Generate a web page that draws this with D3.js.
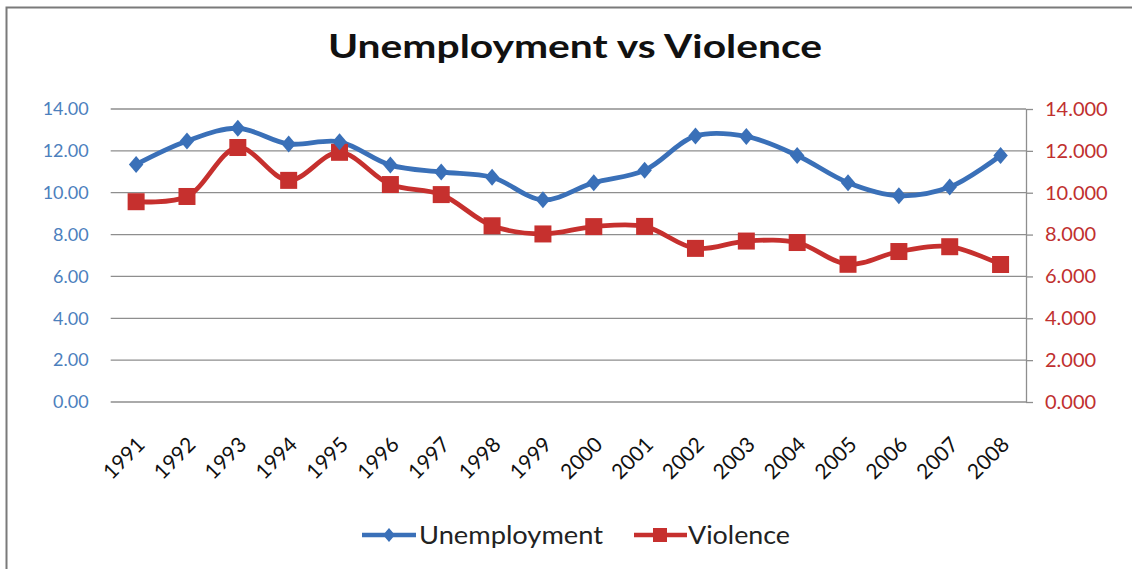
<!DOCTYPE html>
<html>
<head>
<meta charset="utf-8">
<script src="https://cdn.jsdelivr.net/npm/d3@7"></script>
<style>
  html, body { margin: 0; padding: 0; background: #fff; overflow: hidden; }
  svg { display: block; }
</style>
</head>
<body>
<svg id="chart" width="1132" height="569"></svg>
<script>
// Annual series, 1991–2008
const years = ["1991","1992","1993","1994","1995","1996","1997","1998","1999",
               "2000","2001","2002","2003","2004","2005","2006","2007","2008"];
const unemployment = [11.35, 12.47, 13.08, 12.33, 12.43, 11.32, 10.99, 10.74, 9.66,
                      10.48, 11.07, 12.71, 12.69, 11.78, 10.48, 9.86, 10.27, 11.78];
const violence = [9.57, 9.82, 12.16, 10.59, 11.93, 10.39, 9.91, 8.42, 8.03,
                  8.38, 8.39, 7.34, 7.69, 7.62, 6.58, 7.19, 7.42, 6.57];
const leftTicks = [0, 2, 4, 6, 8, 10, 12, 14];
const rightTicks = [0, 2, 4, 6, 8, 10, 12, 14];
const seriesNames = ["Unemployment", "Violence"];

const BLUE = "#3a70b8", RED = "#c6302e";
const LEFT_LABEL = "#4c80bd", RIGHT_LABEL = "#c0302f";
const GRID = "#8e8e8e";
const FONT = "Lato, 'Open Sans', sans-serif";

const svg = d3.select("#chart");
const plot = { left: 110.7, right: 1026, top: 109, bottom: 402 };

// outer chart frame (top and left edges fall inside the view)
svg.append("path")
  .attr("d", "M6.5,569V7.5H1132")
  .attr("fill", "none").attr("stroke", "#7a7a7a").attr("stroke-width", 2);

// title
svg.append("text")
  .attr("x", 328).attr("y", 58)
  .attr("textLength", 494).attr("lengthAdjust", "spacingAndGlyphs")
  .attr("font-family", FONT).attr("font-weight", 700).attr("font-size", 33)
  .attr("fill", "#111")
  .text("Unemployment vs Violence");

const x = d3.scaleBand().domain(years).range([plot.left, plot.right]);
const cx = d => x(d) + x.bandwidth() / 2;
const yL = d3.scaleLinear().domain([0, 14]).range([plot.bottom, plot.top]);
const yR = d3.scaleLinear().domain([0, 14]).range([plot.bottom, plot.top]);

// horizontal gridlines
svg.append("g").selectAll("line").data(leftTicks).join("line")
  .attr("x1", plot.left).attr("x2", plot.right)
  .attr("y1", d => yL(d)).attr("y2", d => yL(d))
  .attr("stroke", GRID).attr("stroke-width", 1.3);

// left axis (labels only)
const gL = svg.append("g")
  .attr("transform", `translate(${plot.left},0)`)
  .call(d3.axisLeft(yL).tickValues(leftTicks).tickFormat(d3.format(".2f"))
    .tickSize(0).tickPadding(22));
gL.select(".domain").remove();
gL.selectAll("text")
  .attr("font-family", FONT).attr("font-size", 18).attr("fill", LEFT_LABEL);

// right axis with outward ticks
const gR = svg.append("g")
  .attr("transform", `translate(${plot.right},0)`)
  .call(d3.axisRight(yR).tickValues(rightTicks).tickFormat(d3.format(".3f"))
    .tickSize(7).tickSizeOuter(0).tickPadding(12));
gR.select(".domain").attr("stroke", GRID).attr("stroke-width", 1.3);
gR.selectAll(".tick line").attr("stroke", GRID).attr("stroke-width", 1.3);
gR.selectAll("text")
  .attr("font-family", FONT).attr("font-size", 20).attr("fill", RIGHT_LABEL);

// category axis labels, rotated
const gX = svg.append("g")
  .attr("transform", `translate(0,${plot.bottom})`)
  .call(d3.axisBottom(x).tickSize(0).tickPadding(0));
gX.select(".domain").remove();
gX.selectAll("text")
  .attr("font-family", FONT).attr("font-size", 21).attr("fill", "#111")
  .attr("text-anchor", "end")
  .attr("dy", 0)
  .attr("transform", "translate(10,44) rotate(-45)");

// series lines
const line = scale => d3.line()
  .x((d, i) => cx(years[i]))
  .y(d => scale(d))
  .curve(d3.curveCatmullRom.alpha(0.5));

svg.append("path").datum(violence)
  .attr("d", line(yR))
  .attr("fill", "none").attr("stroke", RED).attr("stroke-width", 4.8)
  .attr("stroke-linejoin", "round");
svg.append("path").datum(unemployment)
  .attr("d", line(yL))
  .attr("fill", "none").attr("stroke", BLUE).attr("stroke-width", 4.8)
  .attr("stroke-linejoin", "round");

// markers
const diamond = s => `M0,${-s}L${s * 0.85},0L0,${s}L${-s * 0.85},0Z`;
svg.append("g").selectAll("rect").data(violence).join("rect")
  .attr("x", (d, i) => cx(years[i]) - 8.5)
  .attr("y", d => yR(d) - 8.5)
  .attr("width", 17).attr("height", 17)
  .attr("fill", RED);
svg.append("g").selectAll("path").data(unemployment).join("path")
  .attr("transform", (d, i) => `translate(${cx(years[i])},${yL(d)})`)
  .attr("d", diamond(8.5))
  .attr("fill", BLUE);

// legend
const legY = 535;
const leg = svg.append("g");
leg.append("line").attr("x1", 362).attr("x2", 416).attr("y1", legY).attr("y2", legY)
  .attr("stroke", BLUE).attr("stroke-width", 4.5);
leg.append("path").attr("transform", `translate(389,${legY})`).attr("d", diamond(7)).attr("fill", BLUE);
leg.append("text").attr("x", 419).attr("y", legY + 9)
  .attr("textLength", 184).attr("lengthAdjust", "spacingAndGlyphs")
  .attr("font-family", FONT).attr("font-size", 25).attr("fill", "#222")
  .text(seriesNames[0]);
leg.append("line").attr("x1", 634).attr("x2", 687).attr("y1", legY).attr("y2", legY)
  .attr("stroke", RED).attr("stroke-width", 4.5);
leg.append("rect").attr("x", 653).attr("y", legY - 7).attr("width", 14).attr("height", 14).attr("fill", RED);
leg.append("text").attr("x", 688).attr("y", legY + 9)
  .attr("textLength", 102).attr("lengthAdjust", "spacingAndGlyphs")
  .attr("font-family", FONT).attr("font-size", 25).attr("fill", "#222")
  .text(seriesNames[1]);
</script>
</body>
</html>
